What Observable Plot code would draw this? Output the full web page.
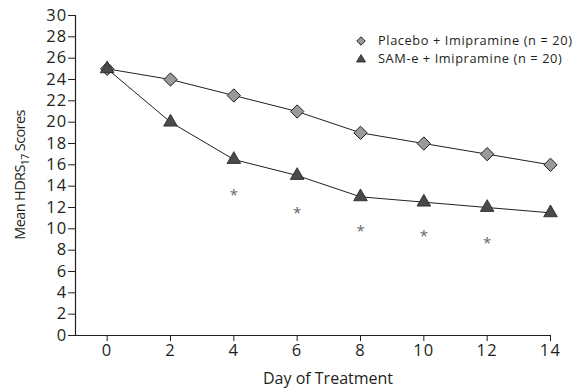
<!DOCTYPE html>
<html>
<head>
<meta charset="utf-8">
<script src="https://cdn.jsdelivr.net/npm/d3@7"></script>
<script src="https://cdn.jsdelivr.net/npm/@observablehq/plot@0.6"></script>
<style>
  body { margin: 0; background: #fff; font-family: "Open Sans", "Noto Sans", sans-serif; }
  #wrap { position: relative; width: 580px; height: 389px; }
  #legend { position: absolute; left: 356px; top: 32px; font-size: 12.8px; color: #231f20; line-height: 17.5px; letter-spacing: 0.6px; }
  #legend div { display: flex; align-items: center; white-space: nowrap; height: 17.5px; }
  #legend svg { margin-right: 12px; flex: none; }
</style>
</head>
<body>
<div id="wrap">
  <div id="chart"></div>
  <div id="legend"></div>
</div>
<script>
const days = [0, 2, 4, 6, 8, 10, 12, 14];
const placebo = [25, 24, 22.5, 21, 19, 18, 17, 16];
const same = [25, 20, 16.5, 15, 13, 12.5, 12, 11.5];
const starDays = [4, 6, 8, 10, 12];
const starValues = [13.2, 11.5, 9.8, 9.3, 8.7];
const seriesNames = ["Placebo + Imipramine (n = 20)", "SAM-e + Imipramine (n = 20)"];
const yTicks = d3.range(0, 31, 2);
const xTicks = [0, 2, 4, 6, 8, 10, 12, 14];

const pData = days.map((d, i) => ({day: d, v: placebo[i]}));
const sData = days.map((d, i) => ({day: d, v: same[i]}));
const stars = starDays.map((d, i) => ({day: d, v: starValues[i]}));

const ink = "#231f20";
const chart = Plot.plot({
  width: 580,
  height: 389,
  marginLeft: 75,
  marginRight: 30,
  marginTop: 15,
  marginBottom: 54,
  style: {fontFamily: "'Open Sans', 'Noto Sans', sans-serif", fontSize: "16px", color: ink, background: "#fff"},
  x: {domain: [-1, 14]},
  y: {domain: [0, 30]},
  marks: [
    Plot.axisY({ticks: yTicks, tickSize: 7, tickPadding: 1, label: null, fontSize: 16.5}),
    Plot.axisX({ticks: xTicks, tickSize: 6, tickPadding: 3, label: null, fontSize: 16.5}),
    Plot.ruleX([-1], {stroke: ink, strokeWidth: 1.2}),
    Plot.ruleY([0], {stroke: ink, strokeWidth: 1.2}),
    Plot.line(pData, {x: "day", y: "v", stroke: ink, strokeWidth: 1}),
    Plot.line(sData, {x: "day", y: "v", stroke: ink, strokeWidth: 1}),
    Plot.dot(pData, {x: "day", y: "v", symbol: "diamond2", r: 6, fill: "#9a9a9a", stroke: ink, strokeWidth: 1}),
    Plot.dot(sData, {x: "day", y: "v", symbol: "triangle2", r: 6.5, fill: "#4a4a4a", stroke: ink, strokeWidth: 0.8}),
    Plot.text(stars, {x: "day", y: "v", text: () => "*", fontSize: 15, fill: "#666"})
  ]
});
document.getElementById("chart").appendChild(chart);

const svg = d3.select(chart);
svg.selectAll('g[aria-label="y-axis tick label"] text, g[aria-label="x-axis tick label"] text')
  .style("font-size", "16.5px")
  .attr("letter-spacing", 1.2);

// axis titles
const yl = svg.append("text")
  .attr("transform", "translate(25,175) rotate(-90)")
  .attr("text-anchor", "middle")
  .attr("fill", ink)
  .style("font-size", "14.5px")
  .attr("letter-spacing", -0.6);
yl.append("tspan").text("Mean HDRS");
yl.append("tspan").style("font-size", "10.5px").attr("dy", 4).text("17");
yl.append("tspan").attr("dy", -4).text(" Scores");

svg.append("text")
  .attr("x", 328).attr("y", 384)
  .attr("text-anchor", "middle")
  .attr("fill", ink)
  .style("font-size", "16px")
  .text("Day of Treatment");

// legend
const leg = document.getElementById("legend");
leg.innerHTML =
  `<div><svg width="10" height="10"><path d="M5,0.8 L9.2,5 L5,9.2 L0.8,5 Z" fill="#9a9a9a" stroke="${ink}" stroke-width="1"/></svg>${seriesNames[0]}</div>` +
  `<div><svg width="10" height="10"><path d="M5,1.5 L9.5,9 L0.5,9 Z" fill="#4a4a4a" stroke="${ink}" stroke-width="0.8"/></svg>${seriesNames[1]}</div>`;
</script>
</body>
</html>
